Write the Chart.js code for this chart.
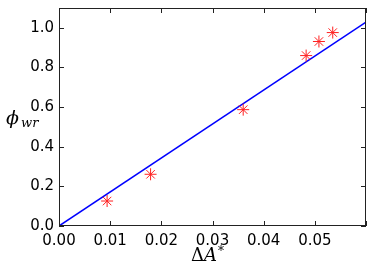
<!DOCTYPE html>
<html>
<head>
<meta charset="utf-8">
<script src="https://cdn.jsdelivr.net/npm/chart.js@4/dist/chart.umd.min.js"></script>
<style>
  html, body { margin: 0; padding: 0; background: #fff; }
  #wrap { width: 374px; height: 280px; position: relative; }
</style>
</head>
<body>
<div id="wrap"><canvas id="phiChart"></canvas></div>
<script>
// measured points
const deltaA = [0.0094, 0.0179, 0.0360, 0.0483, 0.0508, 0.0535];
const phiWr = [0.126, 0.261, 0.587, 0.860, 0.931, 0.976];

// fitted line through origin
const fitX = [0, 0.06];
const fitY = [0, 1.029];

const xTicks = [0, 0.01, 0.02, 0.03, 0.04, 0.05, 0.06];
const yTicks = [0, 0.2, 0.4, 0.6, 0.8, 1.0];

const TICK_LEN = 5;

// frame + inward ticks on all four sides, plus the math-style titles
const framePlugin = {
    id: 'frame',
    afterDraw(c) {
        const { ctx, chartArea: a, scales } = c;
        ctx.save();
        ctx.strokeStyle = '#222';
        ctx.lineWidth = 1;
        ctx.strokeRect(a.left + 0.5, a.top + 0.5, a.right - a.left - 1, a.bottom - a.top - 1);

        ctx.beginPath();
        xTicks.forEach(v => {
            const px = Math.round(scales.x.getPixelForValue(v)) + 0.5;
            ctx.moveTo(px, a.bottom);
            ctx.lineTo(px, a.bottom - TICK_LEN);
            ctx.moveTo(px, a.top);
            ctx.lineTo(px, a.top + TICK_LEN);
        });
        yTicks.forEach(v => {
            const py = Math.round(scales.y.getPixelForValue(v)) + 0.5;
            ctx.moveTo(a.left, py);
            ctx.lineTo(a.left + TICK_LEN, py);
            ctx.moveTo(a.right, py);
            ctx.lineTo(a.right - TICK_LEN, py);
        });
        ctx.stroke();

        // y title: phi_wr
        ctx.fillStyle = '#000';
        ctx.textBaseline = 'alphabetic';
        ctx.textAlign = 'left';
        ctx.font = 'italic 19px "DejaVu Serif"';
        ctx.fillText('\u03D5', 6, 124);
        ctx.font = 'italic 13px "DejaVu Serif"';
        ctx.fillText('wr', 21, 127);

        // x title: Delta A^*
        ctx.font = '18px "DejaVu Serif"';
        let x = 191;
        ctx.fillText('\u0394', x, 261);
        x += ctx.measureText('\u0394').width;
        ctx.font = 'italic 18px "DejaVu Serif"';
        ctx.fillText('A', x, 261);
        x += ctx.measureText('A').width + 1;
        ctx.font = '12px "DejaVu Serif"';
        ctx.fillText('*', x, 255);
        ctx.restore();
    }
};

new Chart(document.getElementById('phiChart'), {
    type: 'scatter',
    data: {
        datasets: [
            {
                type: 'line',
                data: fitX.map((v, i) => ({ x: v, y: fitY[i] })),
                borderColor: '#0000ff',
                borderWidth: 1.5,
                pointRadius: 0,
                fill: false,
                order: 2
            },
            {
                data: deltaA.map((v, i) => ({ x: v, y: phiWr[i] })),
                pointStyle: 'star',
                pointRadius: 6,
                borderColor: '#ff2020',
                backgroundColor: '#ff2020',
                borderWidth: 1,
                order: 1
            }
        ]
    },
    options: {
        responsive: true,
        maintainAspectRatio: false,
        animation: false,
        layout: { padding: { top: 8, right: 8, left: 0, bottom: 0 } },
        plugins: {
            legend: { display: false },
            tooltip: { enabled: false }
        },
        scales: {
            x: {
                type: 'linear',
                min: 0,
                max: 0.06,
                afterBuildTicks: s => { s.ticks = xTicks.map(v => ({ value: v })); },
                afterFit: s => { s.height = 54; s.paddingLeft = 0; s.paddingRight = 0; },
                grid: { display: false, drawTicks: false },
                border: { display: false },
                ticks: {
                    padding: 6,
                    color: '#000',
                    font: { family: '"DejaVu Sans"', size: 15 },
                    maxRotation: 0,
                    callback: v => v >= 0.055 ? '' : v.toFixed(2)
                }
            },
            y: {
                min: 0,
                max: 1.1,
                afterBuildTicks: s => { s.ticks = yTicks.map(v => ({ value: v })); },
                afterFit: s => { s.width = 59; s.paddingTop = 0; s.paddingBottom = 0; },
                grid: { display: false, drawTicks: false },
                border: { display: false },
                ticks: {
                    padding: 5,
                    color: '#000',
                    font: { family: '"DejaVu Sans"', size: 15 },
                    callback: v => v.toFixed(1)
                }
            }
        }
    },
    plugins: [framePlugin]
});
</script>
</body>
</html>
